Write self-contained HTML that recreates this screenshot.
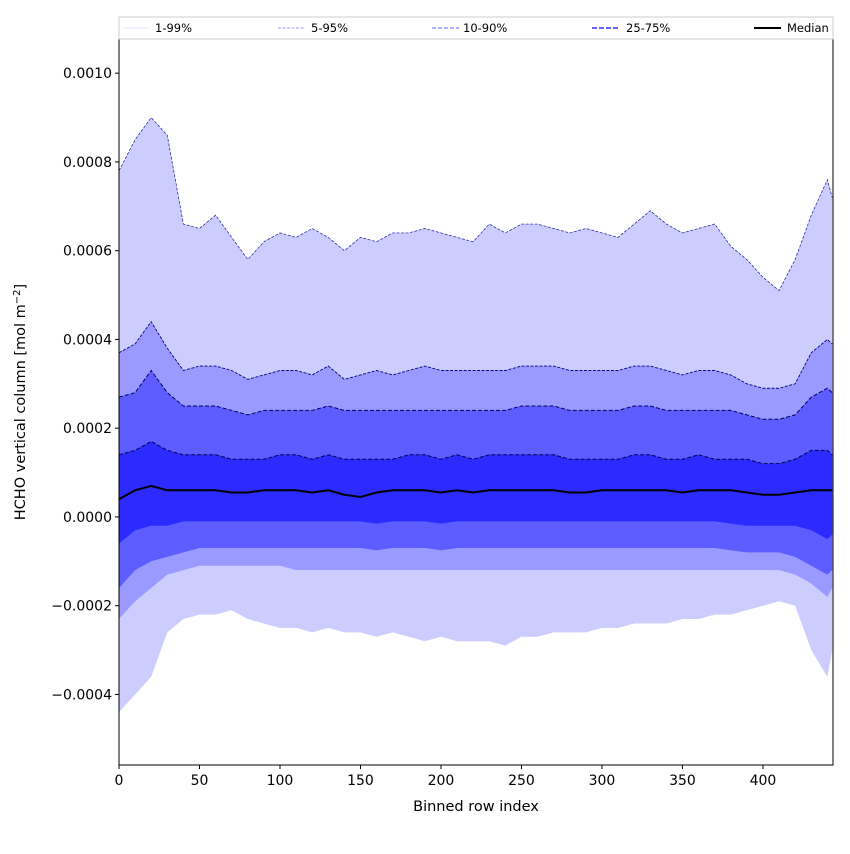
<!DOCTYPE html>
<html><head><meta charset="utf-8"><style>
body{margin:0;background:#fff;font-family:"DejaVu Sans","Liberation Sans",sans-serif}
</style></head><body>
<svg id="chart" width="850" height="850" xmlns="http://www.w3.org/2000/svg" font-family="DejaVu Sans, Liberation Sans, sans-serif"></svg>
<script>
const rows=[0,10,20,30,40,50,60,70,80,90,100,110,120,130,140,150,160,170,180,190,200,210,220,230,240,250,260,270,280,290,300,310,320,330,340,350,360,370,380,390,400,410,420,430,440,443];
const p99=[7.8,8.5,9.0,8.6,6.6,6.5,6.8,6.3,5.8,6.2,6.4,6.3,6.5,6.3,6.0,6.3,6.2,6.4,6.4,6.5,6.4,6.3,6.2,6.6,6.4,6.6,6.6,6.5,6.4,6.5,6.4,6.3,6.6,6.9,6.6,6.4,6.5,6.6,6.1,5.8,5.4,5.1,5.8,6.8,7.6,7.2];
const p95=[3.7,3.9,4.4,3.8,3.3,3.4,3.4,3.3,3.1,3.2,3.3,3.3,3.2,3.4,3.1,3.2,3.3,3.2,3.3,3.4,3.3,3.3,3.3,3.3,3.3,3.4,3.4,3.4,3.3,3.3,3.3,3.3,3.4,3.4,3.3,3.2,3.3,3.3,3.2,3.0,2.9,2.9,3.0,3.7,4.0,3.9];
const p90=[2.7,2.8,3.3,2.8,2.5,2.5,2.5,2.4,2.3,2.4,2.4,2.4,2.4,2.5,2.4,2.4,2.4,2.4,2.4,2.4,2.4,2.4,2.4,2.4,2.4,2.5,2.5,2.5,2.4,2.4,2.4,2.4,2.5,2.5,2.4,2.4,2.4,2.4,2.4,2.3,2.2,2.2,2.3,2.7,2.9,2.8];
const p75=[1.4,1.5,1.7,1.5,1.4,1.4,1.4,1.3,1.3,1.3,1.4,1.4,1.3,1.4,1.3,1.3,1.3,1.3,1.4,1.4,1.3,1.4,1.3,1.4,1.4,1.4,1.4,1.4,1.3,1.3,1.3,1.3,1.4,1.4,1.3,1.3,1.4,1.3,1.3,1.3,1.2,1.2,1.3,1.5,1.5,1.4];
const p50=[0.4,0.6,0.7,0.6,0.6,0.6,0.6,0.55,0.55,0.6,0.6,0.6,0.55,0.6,0.5,0.45,0.55,0.6,0.6,0.6,0.55,0.6,0.55,0.6,0.6,0.6,0.6,0.6,0.55,0.55,0.6,0.6,0.6,0.6,0.6,0.55,0.6,0.6,0.6,0.55,0.5,0.5,0.55,0.6,0.6,0.6];
const p25=[-0.6,-0.3,-0.2,-0.2,-0.1,-0.1,-0.1,-0.1,-0.1,-0.1,-0.1,-0.1,-0.1,-0.1,-0.1,-0.1,-0.15,-0.1,-0.1,-0.1,-0.15,-0.1,-0.1,-0.1,-0.1,-0.1,-0.1,-0.1,-0.1,-0.1,-0.1,-0.1,-0.1,-0.1,-0.1,-0.1,-0.1,-0.1,-0.15,-0.2,-0.2,-0.2,-0.2,-0.3,-0.5,-0.4];
const p10=[-1.6,-1.2,-1.0,-0.9,-0.8,-0.7,-0.7,-0.7,-0.7,-0.7,-0.7,-0.7,-0.7,-0.7,-0.7,-0.7,-0.75,-0.7,-0.7,-0.7,-0.75,-0.7,-0.7,-0.7,-0.7,-0.7,-0.7,-0.7,-0.7,-0.7,-0.7,-0.7,-0.7,-0.7,-0.7,-0.7,-0.7,-0.7,-0.75,-0.8,-0.8,-0.8,-0.9,-1.1,-1.3,-1.2];
const p5=[-2.3,-1.9,-1.6,-1.3,-1.2,-1.1,-1.1,-1.1,-1.1,-1.1,-1.1,-1.2,-1.2,-1.2,-1.2,-1.2,-1.2,-1.2,-1.2,-1.2,-1.2,-1.2,-1.2,-1.2,-1.2,-1.2,-1.2,-1.2,-1.2,-1.2,-1.2,-1.2,-1.2,-1.2,-1.2,-1.2,-1.2,-1.2,-1.2,-1.2,-1.2,-1.2,-1.3,-1.5,-1.8,-1.6];
const p1=[-4.4,-4.0,-3.6,-2.6,-2.3,-2.2,-2.2,-2.1,-2.3,-2.4,-2.5,-2.5,-2.6,-2.5,-2.6,-2.6,-2.7,-2.6,-2.7,-2.8,-2.7,-2.8,-2.8,-2.8,-2.9,-2.7,-2.7,-2.6,-2.6,-2.6,-2.5,-2.5,-2.4,-2.4,-2.4,-2.3,-2.3,-2.2,-2.2,-2.1,-2.0,-1.9,-2.0,-3.0,-3.6,-3.0];
const xTicks=[0,50,100,150,200,250,300,350,400];
const yTicks=[-4,-2,0,2,4,6,8,10];
const yTickLabels=["\u22120.0004","\u22120.0002","0.0000","0.0002","0.0004","0.0006","0.0008","0.0010"];

const L=119,R=833,T=39,B=765,XMAX=443.5,YMIN=-5.59,YMAX=10.77;
const X=v=>L+(v/XMAX)*(R-L);
const Y=v=>B-(v-YMIN)/(YMAX-YMIN)*(B-T);
const svg=document.getElementById('chart');
const NS='http://www.w3.org/2000/svg';
function mk(tag,attrs,parent){const e=document.createElementNS(NS,tag);for(const k in attrs)e.setAttribute(k,attrs[k]);(parent||svg).appendChild(e);return e;}
function band(up,lo,color,name){
  let d='M'+rows.map((r,i)=>X(r)+','+Y(up[i])).join('L');
  for(let i=rows.length-1;i>=0;i--)d+='L'+X(rows[i])+','+Y(lo[i]);
  const p=mk('path',{d:d+'Z',fill:color});
  
  
}
function line(vals,color,w,dash,name){
  const p=mk('path',{d:'M'+rows.map((r,i)=>X(r)+','+Y(vals[i])).join('L'),fill:'none',stroke:color,'stroke-width':w});
  if(dash)p.setAttribute('stroke-dasharray',dash);
  
  
}
band(p99,p1,'#ccccff','band-1-99');
band(p95,p5,'#9999ff','band-5-95');
band(p90,p10,'#5c5cff','band-10-90');
band(p75,p25,'#2b2bff','band-25-75');
line(p99,'#1a1aa0',0.7,'3,1.5','line-p99');
line(p95,'#000080',0.9,'3,1.5','line-p95');
line(p90,'#000060',1,'4,2','line-p90');
line(p75,'#000050',1,'4,2','line-p75');
line(p50,'#000',2,null,'median-line');

const frame=mk('rect',{x:L,y:T,width:R-L,height:B-T,fill:'none',stroke:'#000','stroke-width':1});


xTicks.forEach(t=>{
  mk('line',{x1:X(t),x2:X(t),y1:B,y2:B+4,stroke:'#000'});
  const tx=mk('text',{x:X(t),y:B+20,'text-anchor':'middle','font-size':14});
  tx.textContent=t;
  
  
});
yTicks.forEach((t,i)=>{
  mk('line',{x1:L-4,x2:L,y1:Y(t),y2:Y(t),stroke:'#000'});
  const tx=mk('text',{x:L-7,y:Y(t)+5,'text-anchor':'end','font-size':14});
  tx.textContent=yTickLabels[i];
  
  
});
const xt=mk('text',{x:476,y:811,'text-anchor':'middle','font-size':14.5});
xt.textContent='Binned row index';


const yt=mk('text',{x:0,y:0,'text-anchor':'middle','font-size':14.5,transform:'translate(25,402) rotate(-90)'});
yt.innerHTML='HCHO vertical column [mol m<tspan dy="-5" font-size="10">\u22122</tspan><tspan dy="5">]</tspan>';



const lg=mk('g',{});


mk('rect',{x:119,y:17,width:714,height:22,fill:'#fff',stroke:'#ccc','stroke-width':1},lg);
const entries=[['1-99%',123,155,'#ccccff',0.8,'2,1'],['5-95%',278,311,'#9999ff',0.9,'3,1.5'],['10-90%',432,463,'#8080ff',1.2,'4,2'],['25-75%',592,626,'#6666ff',2,'5,2'],['Median',754,787,'#000',2,null]];
entries.forEach(e=>{
  const l=mk('line',{x1:e[1],x2:e[1]+27,y1:28,y2:28,stroke:e[3],'stroke-width':e[4]},lg);
  if(e[5])l.setAttribute('stroke-dasharray',e[5]);
  const t=mk('text',{x:e[2],y:32,'font-size':11.5},lg);
  t.textContent=e[0];
  
  
});
</script>
</body></html>
